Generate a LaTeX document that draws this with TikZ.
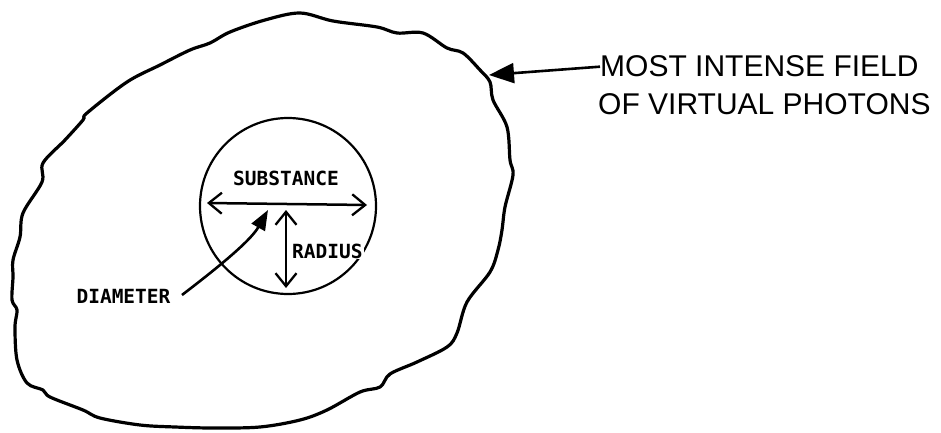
\documentclass[tikz,border=0pt]{standalone}
\usepackage{fontspec}
\setmainfont{Liberation Sans}
\newfontfamily\lettering{DejaVu Sans Mono}
\usetikzlibrary{arrows.meta}
\tikzset{
  blobline/.style={line width=3.2pt, line join=round, line cap=round},
  circline/.style={line width=2.2pt},
  dimarrow/.style={line width=2.5pt, {Straight Barb[length=13pt,width=21pt,line width=2.3pt]}-{Straight Barb[length=13pt,width=21pt,line width=2.3pt]}},
  pointarrow/.style={line width=2.6pt, -{Triangle[length=20pt,width=15pt]}},
  bigarrow/.style={line width=2.6pt, -{Triangle[length=25pt,width=20pt]}},
  smalllabel/.style={font=\lettering\bfseries\fontsize{19.5}{22}\selectfont, inner sep=1pt},
  biglabel/.style={font=\fontsize{30}{37}\selectfont, inner sep=0pt, anchor=base west},
}
\begin{document}
\begin{tikzpicture}[x=1pt,y=-1pt]
\useasboundingbox (0,0) rectangle (941,433);
% outer field boundary
\draw[blobline] plot[smooth cycle, tension=0.55] coordinates {
 (300,13) (333,21) (377,27) (397,33) (423,33) (447,48) (463,53) (480,70)
 (490,82) (493,100) (507,127) (510,160) (513,175) (505,207) (502,230)
 (498,250) (490,272) (467,302) (457,333) (447,347) (417,362) (390,374)
 (380,387) (360,392) (327,410) (300,420) (260,427) (213,428) (175,427)
 (140,425) (100,418) (83,410) (50,397) (43,390) (27,383) (17,360)
 (15,327) (17,310) (12,300) (13,277) (13,260) (20,237) (23,213)
 (42,182) (43,163) (65,140) (83,120) (87,113) (127,82) (160,65)
 (190,50) (210,43) (230,32) (265,20)};
% substance circle
\draw[circline] (288,206) circle[radius=88];
% labels in circle
\node[smalllabel, anchor=base] (subst) at (286,185) {SUBSTANCE};
\node[smalllabel, anchor=base west, fill=white] (rad) at (291,258) {RADIUS};
\node[smalllabel, anchor=base] (diam) at (123.5,303) {DIAMETER};
% dimension arrows
\coordinate (hl) at (207,203);
\coordinate (hr) at (367,205);
\draw[dimarrow] (hl) -- (hr);
\coordinate (vt) at (286,210);
\coordinate (vb) at (286,288);
\draw[dimarrow] (vt) -- (vb);
% diameter pointer
\coordinate (dstart) at (182,295);
\coordinate (dtip) at (268,210);
\draw[pointarrow] (dstart) .. controls (212,272) and (250,242) .. (dtip);
% field label
\node[biglabel] (l1) at (600,77) {MOST INTENSE FIELD};
\node[biglabel] (l2) at (598,114) {OF VIRTUAL PHOTONS};
\coordinate (fieldpt) at (489,75);
\draw[bigarrow] (l1.west) -- (fieldpt);
\end{tikzpicture}
\end{document}
